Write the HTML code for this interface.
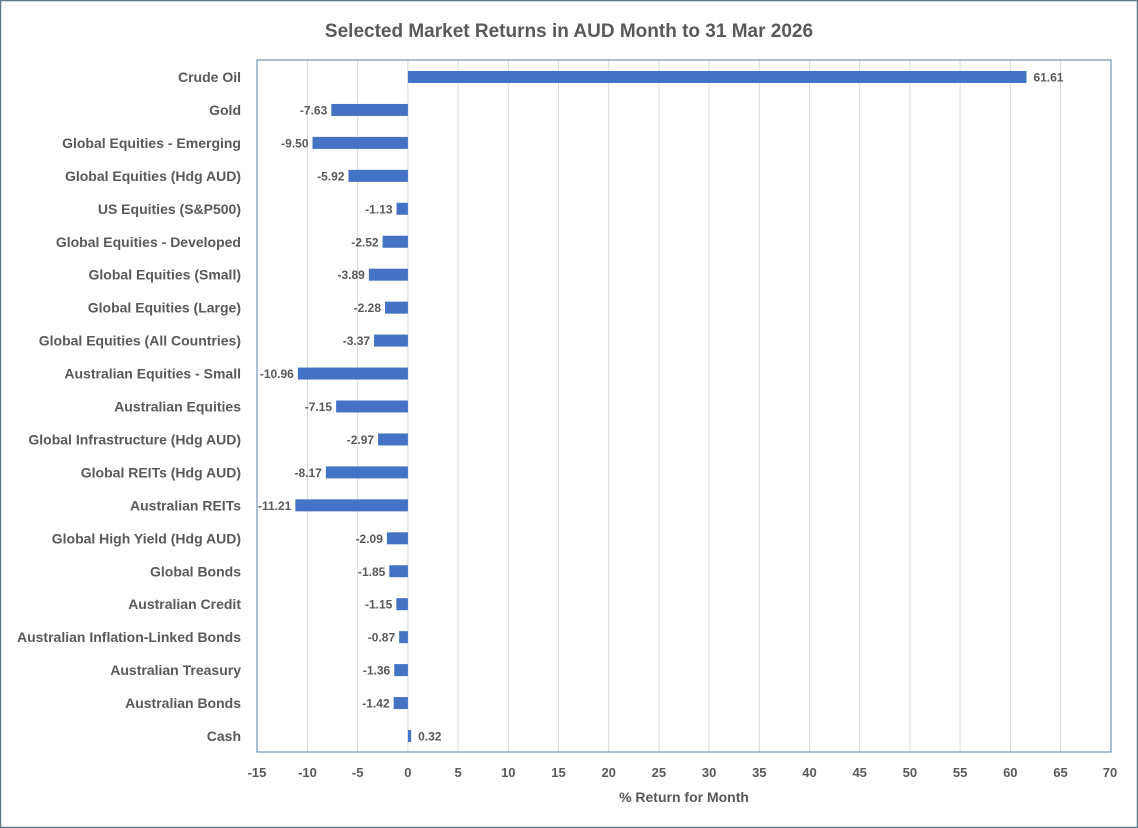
<!DOCTYPE html>
<html><head><meta charset="utf-8"><style>
html,body{margin:0;padding:0;background:#fff}
svg{display:block;font-family:"Liberation Sans",sans-serif}
</style></head><body>
<svg width="1138" height="828" viewBox="0 0 1138 828">
<rect x="0.5" y="0.5" width="1137" height="827" fill="#fff" stroke="#5a7a8a" stroke-width="1.5"/>
<text x="569" y="37" text-anchor="middle" font-size="19" font-weight="bold" fill="#595959">Selected Market Returns in AUD Month to 31 Mar 2026</text>
<g stroke="#d9d9d9" stroke-width="1">
<line x1="307.5" y1="60" x2="307.5" y2="752"/><line x1="357.7" y1="60" x2="357.7" y2="752"/><line x1="407.9" y1="60" x2="407.9" y2="752"/><line x1="458.1" y1="60" x2="458.1" y2="752"/><line x1="508.3" y1="60" x2="508.3" y2="752"/><line x1="558.5" y1="60" x2="558.5" y2="752"/><line x1="608.7" y1="60" x2="608.7" y2="752"/><line x1="658.9" y1="60" x2="658.9" y2="752"/><line x1="709.1" y1="60" x2="709.1" y2="752"/><line x1="759.3" y1="60" x2="759.3" y2="752"/><line x1="809.5" y1="60" x2="809.5" y2="752"/><line x1="859.7" y1="60" x2="859.7" y2="752"/><line x1="909.9" y1="60" x2="909.9" y2="752"/><line x1="960.1" y1="60" x2="960.1" y2="752"/><line x1="1010.3" y1="60" x2="1010.3" y2="752"/><line x1="1060.5" y1="60" x2="1060.5" y2="752"/>
</g>
<rect x="257" y="60" width="854" height="692" fill="none" stroke="#5b7fa6" stroke-width="1"/>
<g font-size="13" font-weight="bold" fill="#595959" text-anchor="middle">
<text x="257" y="777">-15</text><text x="307.5" y="777">-10</text><text x="357.7" y="777">-5</text><text x="407.9" y="777">0</text><text x="458.1" y="777">5</text><text x="508.3" y="777">10</text><text x="558.5" y="777">15</text><text x="608.7" y="777">20</text><text x="658.9" y="777">25</text><text x="709.1" y="777">30</text><text x="759.3" y="777">35</text><text x="809.5" y="777">40</text><text x="859.7" y="777">45</text><text x="909.9" y="777">50</text><text x="960.1" y="777">55</text><text x="1010.3" y="777">60</text><text x="1060.5" y="777">65</text><text x="1110" y="777">70</text>
<text x="684" y="802" font-size="14">% Return for Month</text>
</g>
<g id="bars"></g>
<script>
var d=[["Crude Oil",61.61],["Gold",-7.63],["Global Equities - Emerging",-9.50],["Global Equities (Hdg AUD)",-5.92],["US Equities (S&P500)",-1.13],["Global Equities - Developed",-2.52],["Global Equities (Small)",-3.89],["Global Equities (Large)",-2.28],["Global Equities (All Countries)",-3.37],["Australian Equities - Small",-10.96],["Australian Equities",-7.15],["Global Infrastructure (Hdg AUD)",-2.97],["Global REITs (Hdg AUD)",-8.17],["Australian REITs",-11.21],["Global High Yield (Hdg AUD)",-2.09],["Global Bonds",-1.85],["Australian Credit",-1.15],["Australian Inflation-Linked Bonds",-0.87],["Australian Treasury",-1.36],["Australian Bonds",-1.42],["Cash",0.32]];
var ns="http://www.w3.org/2000/svg",g=document.getElementById("bars"),z=407.9,u=10.04;
function t(x,y,s,a,sz){var e=document.createElementNS(ns,"text");e.setAttribute("x",x);e.setAttribute("y",y);e.setAttribute("text-anchor",a);e.setAttribute("font-size",sz);e.setAttribute("font-weight","bold");e.setAttribute("fill","#595959");e.textContent=s;g.appendChild(e);}
d.forEach(function(r,i){var cy=77+i*32.95,v=r[1],x1=z+Math.min(0,v)*u,w=Math.abs(v)*u;
var b=document.createElementNS(ns,"rect");b.setAttribute("x",x1);b.setAttribute("y",cy-6);b.setAttribute("width",w);b.setAttribute("height",12);b.setAttribute("fill","#4472c4");g.appendChild(b);
t(241,cy+5,r[0],"end",14);
if(v>0)t(z+v*u+7,cy+4.5,v.toFixed(2),"start",12);else t(x1-4,cy+4.5,v.toFixed(2),"end",12);});
</script>
</svg>
</body></html>
